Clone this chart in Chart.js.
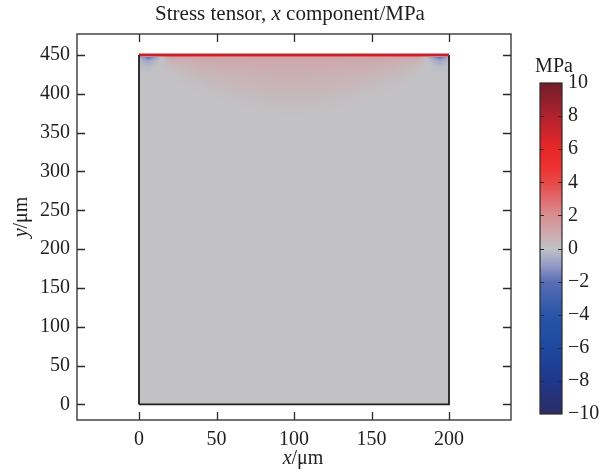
<!DOCTYPE html>
<html>
<head>
<meta charset="utf-8">
<script src="https://cdn.jsdelivr.net/npm/chart.js@4/dist/chart.umd.min.js"></script>
<style>
  html, body { margin: 0; padding: 0; background: #fff; }
  #wrap { width: 601px; height: 473px; }
</style>
</head>
<body>
<div id="wrap"><canvas id="stressChart" width="601" height="473"></canvas></div>
<script>
// axis ticks
const xTicks = [0, 50, 100, 150, 200];
const yTicks = [0, 50, 100, 150, 200, 250, 300, 350, 400, 450];
const cbTicks = [-10, -8, -6, -4, -2, 0, 2, 4, 6, 8, 10];

// domain of the sample (µm)
const domainX = [0, 200];
const domainY = [0, 450];

// sampled stress field near the top edge (MPa); below the last row it is 0
const fieldX = [0, 6, 20, 40, 60, 80, 100, 120, 140, 160, 180, 194, 200];
const fieldY = [450, 447, 443, 435, 425, 410, 395, 380, 365];
const fieldVals = [
  [6.0, 5.5, 5.0, 5.0, 5.0, 5.0, 5.0, 5.0, 5.0, 5.0, 5.0, 5.5, 6.0],
  [-0.5, -2.0, 1.2, 1.1, 1.1, 1.1, 1.1, 1.1, 1.1, 1.1, 1.2, -2.0, -0.5],
  [-0.3, -0.8, 0.6, 0.9, 0.95, 1.0, 1.0, 1.0, 0.95, 0.9, 0.6, -0.8, -0.3],
  [-0.1, -0.2, 0.25, 0.65, 0.8, 0.85, 0.85, 0.85, 0.8, 0.65, 0.25, -0.2, -0.1],
  [0, 0, 0.05, 0.4, 0.6, 0.7, 0.75, 0.7, 0.6, 0.4, 0.05, 0, 0],
  [0, 0, 0, 0.12, 0.35, 0.5, 0.55, 0.5, 0.35, 0.12, 0, 0, 0],
  [0, 0, 0, 0, 0.12, 0.28, 0.32, 0.28, 0.12, 0, 0, 0, 0],
  [0, 0, 0, 0, 0, 0.08, 0.12, 0.08, 0, 0, 0, 0, 0],
  [0, 0, 0, 0, 0, 0, 0, 0, 0, 0, 0, 0, 0]
];

// colour table (MPa -> rgb)
const cmapValues = [-10, -8, -6, -4, -2, -1, 0, 1, 2, 4, 5, 6, 8, 10];
const cmapColors = [
  [45, 45, 100], [30, 55, 140], [30, 72, 158], [40, 85, 168], [90, 110, 180],
  [148, 156, 198], [194, 194, 197], [206, 168, 171], [216, 142, 146],
  [232, 72, 72], [238, 48, 48], [232, 40, 40], [176, 34, 46], [112, 30, 42]
];

const FONT = "'Liberation Serif', 'Times New Roman', serif";
const TXT = '#1e1e1e';

function colorFor(v) {
  if (v <= cmapValues[0]) return cmapColors[0];
  const n = cmapValues.length;
  if (v >= cmapValues[n - 1]) return cmapColors[n - 1];
  for (let i = 0; i < n - 1; i++) {
    if (v <= cmapValues[i + 1]) {
      const t = (v - cmapValues[i]) / (cmapValues[i + 1] - cmapValues[i]);
      const a = cmapColors[i], b = cmapColors[i + 1];
      return [a[0] + (b[0] - a[0]) * t, a[1] + (b[1] - a[1]) * t, a[2] + (b[2] - a[2]) * t];
    }
  }
}

function bracket(arr, v, desc) {
  for (let i = 0; i < arr.length - 1; i++) {
    const lo = desc ? arr[i + 1] : arr[i], hi = desc ? arr[i] : arr[i + 1];
    if (v >= lo && v <= hi) {
      const t = (v - arr[i]) / (arr[i + 1] - arr[i]);
      return [i, t];
    }
  }
  return null;
}

function fieldAt(x, y) {
  if (y < fieldY[fieldY.length - 1]) return 0;
  const by = bracket(fieldY, Math.min(y, fieldY[0]), true);
  const bx = bracket(fieldX, Math.max(domainX[0], Math.min(x, domainX[1])), false);
  if (!by || !bx) return 0;
  const [j, ty] = by, [i, tx] = bx;
  const r0 = fieldVals[j], r1 = fieldVals[j + 1];
  const top = r0[i] + (r0[i + 1] - r0[i]) * tx;
  const bot = r1[i] + (r1[i + 1] - r1[i]) * tx;
  return top + (bot - top) * ty;
}

// draws the stress surface under the outline
const surfacePlugin = {
  id: 'surface',
  beforeDatasetsDraw(chart) {
    const { ctx, scales: { x, y } } = chart;
    const px0 = Math.round(x.getPixelForValue(domainX[0]));
    const px1 = Math.round(x.getPixelForValue(domainX[1]));
    const py0 = Math.round(y.getPixelForValue(domainY[1]));
    const py1 = Math.round(y.getPixelForValue(domainY[0]));
    const w = px1 - px0, h = py1 - py0;
    const off = document.createElement('canvas');
    off.width = w; off.height = h;
    const octx = off.getContext('2d');
    const img = octx.createImageData(w, h);
    for (let r = 0; r < h; r++) {
      const yv = y.getValueForPixel(py0 + r + 0.5);
      for (let c = 0; c < w; c++) {
        const xv = x.getValueForPixel(px0 + c + 0.5);
        const col = colorFor(fieldAt(xv, yv));
        const k = (r * w + c) * 4;
        img.data[k] = col[0]; img.data[k + 1] = col[1]; img.data[k + 2] = col[2]; img.data[k + 3] = 255;
      }
    }
    octx.putImageData(img, 0, 0);
    ctx.save();
    ctx.filter = 'blur(0.6px)';
    ctx.drawImage(off, px0, py0);
    ctx.restore();
  }
};

function drawRich(ctx, parts, cx, cy, size) {
  let total = 0;
  parts.forEach(p => {
    ctx.font = (p.italic ? 'italic ' : '') + size + 'px ' + FONT;
    p.w = ctx.measureText(p.t).width;
    total += p.w;
  });
  let xx = cx - total / 2;
  ctx.textBaseline = 'middle';
  ctx.textAlign = 'left';
  parts.forEach(p => {
    ctx.font = (p.italic ? 'italic ' : '') + size + 'px ' + FONT;
    ctx.fillText(p.t, xx, cy);
    xx += p.w;
  });
}

// frame, inward ticks, titles and colour bar
const decorPlugin = {
  id: 'decor',
  afterDraw(chart) {
    const { ctx, chartArea: a, scales: { x, y } } = chart;
    ctx.save();
    ctx.strokeStyle = '#2a2a2a';
    ctx.lineWidth = 1.3;
    ctx.strokeRect(a.left, a.top, a.right - a.left, a.bottom - a.top);
    const tl = 8;
    ctx.beginPath();
    xTicks.forEach(v => {
      const p = Math.round(x.getPixelForValue(v)) + 0.5;
      ctx.moveTo(p, a.bottom); ctx.lineTo(p, a.bottom - tl);
      ctx.moveTo(p, a.top); ctx.lineTo(p, a.top + tl);
    });
    yTicks.forEach(v => {
      const p = Math.round(y.getPixelForValue(v)) + 0.5;
      ctx.moveTo(a.left, p); ctx.lineTo(a.left + tl, p);
      ctx.moveTo(a.right, p); ctx.lineTo(a.right - tl, p);
    });
    ctx.stroke();

    ctx.fillStyle = TXT;
    drawRich(ctx, [{ t: 'Stress tensor, ' }, { t: 'x', italic: true }, { t: ' component/MPa' }], 290, 14, 21);
    drawRich(ctx, [{ t: 'x', italic: true }, { t: '/\u03bcm' }], (a.left + a.right) / 2 + 9, 459, 20);
    ctx.save();
    ctx.translate(22, 217);
    ctx.rotate(-Math.PI / 2);
    drawRich(ctx, [{ t: 'y', italic: true }, { t: '/\u03bcm' }], 0, 0, 20);
    ctx.restore();

    // colour bar
    const cbL = 540, cbR = 562, cbT = 83, cbB = 414;
    const lo = cmapValues[0], hi = cmapValues[cmapValues.length - 1];
    const toPx = v => cbB - (v - lo) / (hi - lo) * (cbB - cbT);
    const grad = ctx.createLinearGradient(0, cbB, 0, cbT);
    cmapValues.forEach((v, i) => {
      const c = cmapColors[i];
      grad.addColorStop((v - lo) / (hi - lo), `rgb(${c[0]},${c[1]},${c[2]})`);
    });
    ctx.fillStyle = grad;
    ctx.fillRect(cbL, cbT, cbR - cbL, cbB - cbT);
    ctx.strokeStyle = '#2a2a2a';
    ctx.lineWidth = 1.2;
    ctx.strokeRect(cbL, cbT, cbR - cbL, cbB - cbT);
    ctx.beginPath();
    cbTicks.forEach(v => {
      const p = Math.round(toPx(v)) + 0.5;
      if (v !== lo && v !== hi) {
        ctx.moveTo(cbL, p); ctx.lineTo(cbL + 4, p);
        ctx.moveTo(cbR, p); ctx.lineTo(cbR - 4, p);
      }
    });
    ctx.stroke();
    ctx.fillStyle = TXT;
    ctx.font = '20px ' + FONT;
    ctx.textAlign = 'left';
    ctx.textBaseline = 'middle';
    cbTicks.forEach(v => {
      const s = v < 0 ? '\u2212' + Math.abs(v) : String(v);
      ctx.fillText(s, 568, toPx(v));
    });
    ctx.textAlign = 'center';
    ctx.fillText('MPa', 554, 67);
    ctx.restore();
  }
};

const outline = [
  { x: domainX[0], y: domainY[0] }, { x: domainX[1], y: domainY[0] },
  { x: domainX[1], y: domainY[1] }, { x: domainX[0], y: domainY[1] },
  { x: domainX[0], y: domainY[0] }
];
const isTopEdge = c => c.p0.parsed.y === domainY[1] && c.p1.parsed.y === domainY[1];

new Chart(document.getElementById('stressChart'), {
  type: 'scatter',
  data: {
    datasets: [{
      data: outline,
      showLine: true,
      borderColor: '#1e1e1e',
      borderWidth: 1.8,
      pointRadius: 0,
      segment: {
        borderColor: c => isTopEdge(c) ? '#c8202a' : undefined,
        borderWidth: c => isTopEdge(c) ? 2.8 : undefined
      }
    }]
  },
  plugins: [surfacePlugin, decorPlugin],
  options: {
    responsive: false,
    animation: false,
    devicePixelRatio: 1,
    layout: { padding: { top: 34, right: 90, left: 0, bottom: 0 } },
    plugins: { legend: { display: false }, tooltip: { enabled: false }, title: { display: false } },
    scales: {
      x: {
        type: 'linear', min: -40, max: 240,
        afterBuildTicks: s => { s.ticks = xTicks.map(v => ({ value: v })); },
        afterFit: s => { s.height = 53; },
        grid: { display: false, drawTicks: false },
        border: { display: false },
        ticks: { padding: 8, color: TXT, font: { family: FONT, size: 20 }, maxRotation: 0, autoSkip: false }
      },
      y: {
        type: 'linear', min: -20, max: 477,
        afterBuildTicks: s => { s.ticks = yTicks.map(v => ({ value: v })); },
        afterFit: s => { s.width = 77; },
        grid: { display: false, drawTicks: false },
        border: { display: false },
        ticks: { padding: 7, color: TXT, font: { family: FONT, size: 20 }, autoSkip: false }
      }
    }
  }
});
</script>
</body>
</html>
